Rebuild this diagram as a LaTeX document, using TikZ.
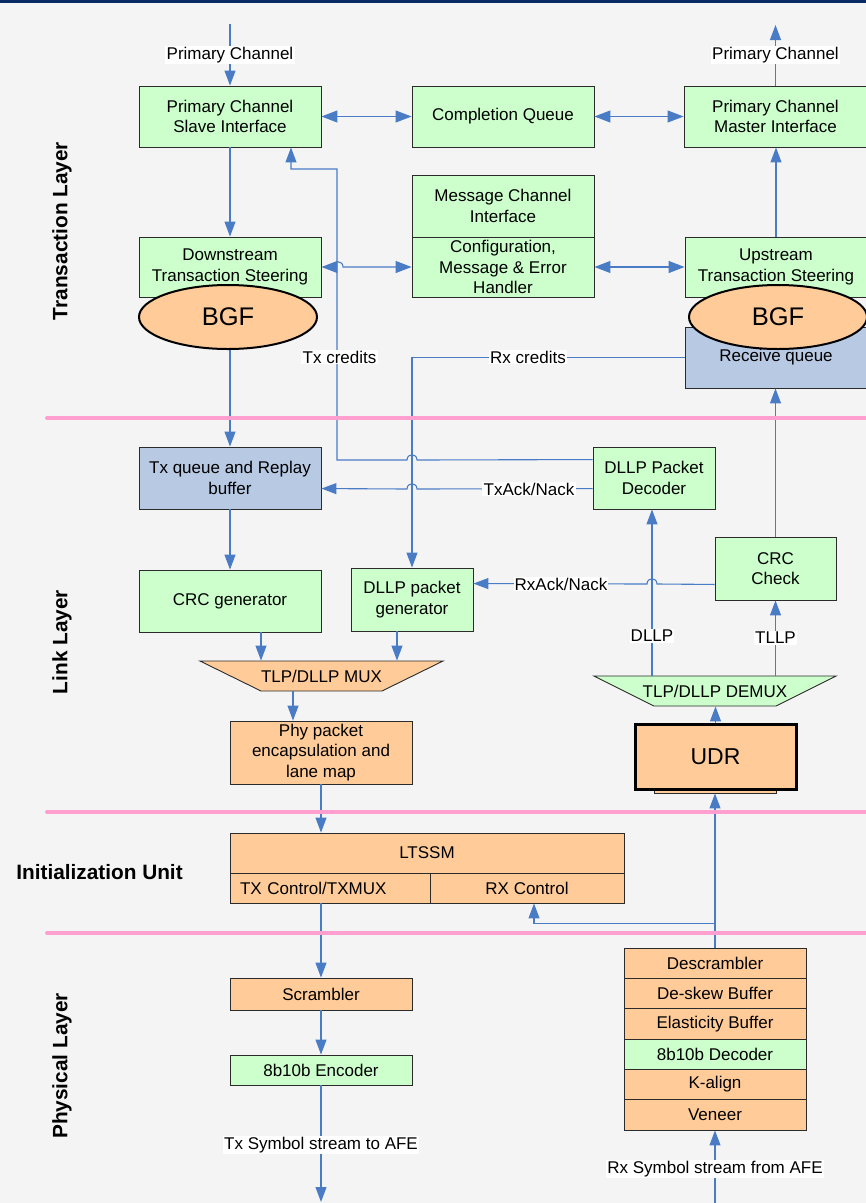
\documentclass[tikz,border=0pt]{standalone}
\usepackage{fontspec}
\setmainfont{Liberation Sans}
\usetikzlibrary{arrows.meta,shapes.geometric,calc}
\definecolor{canvas}{HTML}{F4F4F4}
\definecolor{topbar}{HTML}{0A2A66}
\definecolor{boxgreen}{HTML}{CCFFCC}
\definecolor{boxorange}{HTML}{FFCC99}
\definecolor{boxblue}{HTML}{B8C9E3}
\definecolor{wire}{HTML}{4A7CC6}
\definecolor{divider}{HTML}{FF9FCF}
\definecolor{edge}{HTML}{2B2B2B}
\tikzset{
  blk/.style={draw=edge, line width=0.9pt, inner sep=0pt, align=center,
    font=\fontsize{17}{20.5}\selectfont},
  grn/.style={blk, fill=boxgreen},
  org/.style={blk, fill=boxorange},
  blu/.style={blk, fill=boxblue},
  sz/.style 2 args={minimum width=#1pt, minimum height=#2pt},
  wiring/.style={draw=wire, line width=1.1pt},
  arr/.style={wiring, -{Triangle[length=15pt,width=11pt]}},
  darr/.style={wiring, {Triangle[length=16pt,width=12pt]}-{Triangle[length=16pt,width=12pt]}},
  lbl/.style={fill=white, inner sep=1.2pt, font=\fontsize{17}{20}\selectfont},
  layer/.style={font=\bfseries\fontsize{20.8}{25}\selectfont},
  bgf/.style={ellipse, draw=black, line width=2pt, fill=boxorange, inner sep=0pt,
    minimum width=178pt, minimum height=64pt, font=\fontsize{25.5}{30}\selectfont},
  divline/.style={draw=divider, line width=4pt, line cap=round},
}
\begin{document}
\begin{tikzpicture}[x=1pt,y=-1pt]
\useasboundingbox (0,0) rectangle (866,1203);
\clip (0,0) rectangle (866,1203);
\fill[canvas] (0,0) rectangle (866,1203);
\fill[topbar] (0,0) rectangle (866,3);

% layer captions
\node[layer, rotate=90] (tl) at (62,231) {Transaction Layer};
\node[layer, rotate=90] (ll) at (62,642) {Link Layer};
\node[layer] (iu) at (99.5,872) {Initialization Unit};
\node[layer, rotate=90] (pl) at (62,1066) {Physical Layer};

% transaction layer blocks
\node[grn, sz={182}{61}] (pcsi) at (230,116.5) {Primary Channel\\Slave Interface};
\node[grn, sz={182}{61}] (cq) at (503,116.5) {Completion Queue};
\node[grn, sz={183}{61}] (pcmi) at (775.5,116.5) {Primary Channel\\Master Interface};
\node[grn, sz={182}{62}] (mci) at (503,206) {Message Channel\\Interface};
\node[grn, sz={182}{60}] (ceh) at (503,267) {Configuration,\\Message \& Error\\Handler};
\node[grn, sz={182}{60}] (dts) at (230,267) {Downstream\\Transaction Steering};
\node[grn, sz={182}{60}] (uts) at (776,267) {Upstream\\Transaction Steering};
\node[blu, sz={182}{61}] (rq) at (776,357.5) {Receive queue};
\node[bgf] (bgfl) at (228,317) {BGF};
\node[bgf] (bgfr) at (778,317) {BGF};

% link layer blocks
\node[blu, sz={182}{62}] (txq) at (230,478) {Tx queue and Replay\\buffer};
\node[grn, sz={122}{62}] (dpd) at (654,478) {DLLP Packet\\Decoder};
\node[grn, sz={121}{63}] (crcc) at (775.5,568.5) {CRC\\Check};
\node[grn, sz={182}{62}] (crcg) at (230,601) {CRC generator};
\node[grn, sz={122}{63}] (dpg) at (412,599.5) {DLLP packet\\generator};

\filldraw[fill=boxorange, draw=edge, line width=0.9pt]
  (200,661) -- (443,661) -- (382,691) -- (261,691) -- cycle;
\node[blk, draw=none, sz={243}{30}] (mux) at (321.5,676) {TLP/DLLP MUX};
\node[org, sz={182}{63}] (phy) at (321,752.5) {Phy packet\\encapsulation and\\lane map};

\filldraw[fill=boxgreen, draw=edge, line width=0.9pt]
  (594,676) -- (836,676) -- (776,706) -- (654,706) -- cycle;
\node[blk, draw=none, sz={242}{30}] (demux) at (715,691) {TLP/DLLP DEMUX};
\node[org, sz={122}{23}] (udrbase) at (715,781.5) {};
\node[org, draw=black, line width=3pt, sz={161}{65}, font=\fontsize{23}{28}\selectfont]
  (udr) at (715.5,756.5) {UDR};

% initialization unit
\node[org, sz={394}{40}] (ltssm) at (427,853) {LTSSM};
\node[org, sz={200}{30}, text width=180pt, align=left] (txc) at (330,888) {TX Control/TXMUX};
\node[org, sz={194}{30}] (rxc) at (527,888) {RX Control};

% physical layer
\node[org, sz={182}{32}] (scr) at (321,994) {Scrambler};
\node[grn, sz={182}{30}] (enc) at (321,1070) {8b10b Encoder};
\node[org, sz={182}{30.33}] (descr) at (715,963.17) {Descrambler};
\node[org, sz={182}{30.33}] (deskew) at (715,993.5) {De-skew Buffer};
\node[org, sz={182}{30.33}] (elast) at (715,1023.83) {Elasticity Buffer};
\node[grn, sz={182}{30.33}] (dec) at (715,1054.17) {8b10b Decoder};
\node[org, sz={182}{30.33}] (kalign) at (715,1084.5) {K-align};
\node[org, sz={182}{30.33}] (veneer) at (715,1114.83) {Veneer};

\coordinate (pcin) at (230,24);
\coordinate (pcout) at (775.5,25);
\coordinate (txout) at (321,1202);
\coordinate (rxin) at (715,1204);
\coordinate (dllpup) at (652,676);

% transaction layer wiring
\draw[arr] (pcin) -- node[lbl]{Primary Channel} (pcsi.north);
\draw[arr] (pcmi.north) -- node[lbl]{Primary Channel} (pcout);
\draw[darr] (pcsi.east) -- (pcsi.east -| cq.west);
\draw[darr] (cq.east) -- (cq.east -| pcmi.west);
\draw[arr] (pcsi.south) -- (dts.north);
\draw[arr] (uts.north) -- (uts.north |- pcmi.south);
\draw[darr] (ceh.west) -- (343,267) .. controls (343,260) and (333,260) .. (333,267) -- (dts.east);
\draw[darr] (ceh.east) -- (uts.west);

% credit paths
\draw[arr] ($(dpd.north west)+(0,13)$) -- (417,460) .. controls (417,453) and (407,453) .. (407,460)
  -- (337,460) -- (337,169) -- (291,169) -- ($(pcsi.south)+(61,0)$);
\draw[arr] (rq.west) -| (dpg.north);

% link layer wiring
\draw[arr] ($(dpd.north west)+(0,42)$) -- (417,489) .. controls (417,482) and (407,482) .. (407,489)
  -- ($(txq.north east)+(0,42)$);
\draw[arr] ($(crcc.south west)+(0,-16)$) -- (657,584) .. controls (657,577) and (647,577) .. (647,584)
  -- ($(dpg.north east)+(0,16)$);
\draw[arr] (crcc.north) -- (crcc.north |- rq.south);
\draw[arr] (txq.north |- bgfl.south) -- (txq.north);
\draw[arr] (txq.south) -- (crcg.north);
\draw[arr] ($(crcg.south)+(31,0)$) -- ($(mux.north)+(-60.5,0)$);
\draw[arr] ($(dpg.south)+(-15,0)$) -- ($(mux.north)+(75.5,0)$);
\draw[arr] ($(mux.south)+(-28.5,0)$) -- ($(phy.north)+(-28,0)$);
\draw[arr] (udr.north) -- (udr.north |- demux.south);
\draw[arr] (dllpup) -- node[lbl, pos=0.24]{DLLP} (dllpup |- dpd.south);
\draw[arr] (crcc.south |- demux.north) -- node[lbl]{TLLP} (crcc.south);

% lower wiring
\draw[arr] (phy.south) -- (phy.south |- ltssm.north);
\draw[arr] (scr.north |- txc.south) -- (scr.north);
\draw[arr] (scr.south) -- (enc.north);
\draw[arr] (enc.south) -- node[lbl, pos=0.51]{Tx Symbol stream to AFE} (txout);
\draw[arr] (rxin) -- node[lbl, pos=0.48]{Rx Symbol stream from AFE} (veneer.south);
\draw[arr] (descr.north) -- (udrbase.south);
\draw[arr] ($(descr.north)+(0,-24)$) -| ($(rxc.south)+(7,0)$);

% layer dividers
\draw[divline] (47,418) -- (872,418);
\draw[divline] (47,812) -- (872,812);
\draw[divline] (47,933) -- (872,933);

% wire labels
\node[lbl] (txcr) at (339.5,357) {Tx credits};
\node[lbl] (rxcr) at (528,357) {Rx credits};
\node[lbl] (txack) at (529,489) {TxAck/Nack};
\node[lbl] (rxack) at (561,584) {RxAck/Nack};
\end{tikzpicture}
\end{document}
